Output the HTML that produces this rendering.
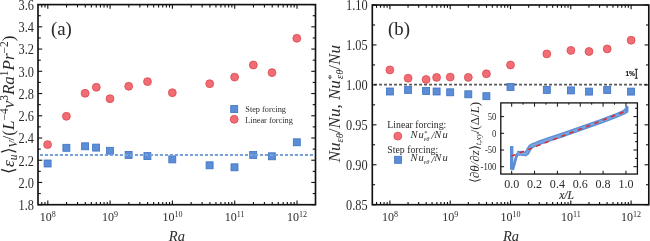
<!DOCTYPE html><html><head><meta charset="utf-8"><style>html,body{margin:0;padding:0;background:#fff;width:650px;height:241px;overflow:hidden}svg{display:block;will-change:transform}</style></head><body><svg width="650" height="241" viewBox="0 0 650 241">
<rect width="650" height="241" fill="#fff"/>
<rect x="44.10" y="160.00" width="7.0" height="7.0" fill="#5b8ed6" stroke="#3f72c4" stroke-width="0.8"/>
<rect x="62.90" y="144.30" width="7.0" height="7.0" fill="#5b8ed6" stroke="#3f72c4" stroke-width="0.8"/>
<rect x="81.60" y="142.80" width="7.0" height="7.0" fill="#5b8ed6" stroke="#3f72c4" stroke-width="0.8"/>
<rect x="92.60" y="144.10" width="7.0" height="7.0" fill="#5b8ed6" stroke="#3f72c4" stroke-width="0.8"/>
<rect x="106.50" y="147.30" width="7.0" height="7.0" fill="#5b8ed6" stroke="#3f72c4" stroke-width="0.8"/>
<rect x="125.10" y="151.40" width="7.0" height="7.0" fill="#5b8ed6" stroke="#3f72c4" stroke-width="0.8"/>
<rect x="143.90" y="152.60" width="7.0" height="7.0" fill="#5b8ed6" stroke="#3f72c4" stroke-width="0.8"/>
<rect x="168.80" y="155.90" width="7.0" height="7.0" fill="#5b8ed6" stroke="#3f72c4" stroke-width="0.8"/>
<rect x="206.10" y="161.80" width="7.0" height="7.0" fill="#5b8ed6" stroke="#3f72c4" stroke-width="0.8"/>
<rect x="231.00" y="163.80" width="7.0" height="7.0" fill="#5b8ed6" stroke="#3f72c4" stroke-width="0.8"/>
<rect x="249.70" y="151.40" width="7.0" height="7.0" fill="#5b8ed6" stroke="#3f72c4" stroke-width="0.8"/>
<rect x="268.40" y="152.80" width="7.0" height="7.0" fill="#5b8ed6" stroke="#3f72c4" stroke-width="0.8"/>
<rect x="293.30" y="138.80" width="7.0" height="7.0" fill="#5b8ed6" stroke="#3f72c4" stroke-width="0.8"/>
<line x1="38" y1="154.9" x2="315.5" y2="154.9" stroke="#7aa2da" stroke-width="2" stroke-dasharray="3.1 1.9" stroke-dashoffset="3.1"/>
<circle cx="47.6" cy="144.6" r="3.95" fill="#f06d75" stroke="#e0464f" stroke-width="0.8"/>
<circle cx="66.4" cy="116.3" r="3.95" fill="#f06d75" stroke="#e0464f" stroke-width="0.8"/>
<circle cx="85.1" cy="93.3" r="3.95" fill="#f06d75" stroke="#e0464f" stroke-width="0.8"/>
<circle cx="96.3" cy="87.3" r="3.95" fill="#f06d75" stroke="#e0464f" stroke-width="0.8"/>
<circle cx="110.0" cy="98.7" r="3.95" fill="#f06d75" stroke="#e0464f" stroke-width="0.8"/>
<circle cx="128.7" cy="86.3" r="3.95" fill="#f06d75" stroke="#e0464f" stroke-width="0.8"/>
<circle cx="147.5" cy="81.6" r="3.95" fill="#f06d75" stroke="#e0464f" stroke-width="0.8"/>
<circle cx="172.3" cy="92.7" r="3.95" fill="#f06d75" stroke="#e0464f" stroke-width="0.8"/>
<circle cx="209.7" cy="83.7" r="3.95" fill="#f06d75" stroke="#e0464f" stroke-width="0.8"/>
<circle cx="234.6" cy="77.1" r="3.95" fill="#f06d75" stroke="#e0464f" stroke-width="0.8"/>
<circle cx="253.3" cy="65.0" r="3.95" fill="#f06d75" stroke="#e0464f" stroke-width="0.8"/>
<circle cx="272.0" cy="72.6" r="3.95" fill="#f06d75" stroke="#e0464f" stroke-width="0.8"/>
<circle cx="296.8" cy="38.3" r="3.95" fill="#f06d75" stroke="#e0464f" stroke-width="0.8"/>
<rect x="38" y="4.6" width="277.5" height="200.1" fill="none" stroke="#111" stroke-width="1.65"/>
<line x1="41.76" y1="204.7" x2="41.76" y2="201.89999999999998" stroke="#111" stroke-width="1.1"/>
<line x1="41.76" y1="4.6" x2="41.76" y2="7.3999999999999995" stroke="#111" stroke-width="1.1"/>
<line x1="44.95" y1="204.7" x2="44.95" y2="201.89999999999998" stroke="#111" stroke-width="1.1"/>
<line x1="44.95" y1="4.6" x2="44.95" y2="7.3999999999999995" stroke="#111" stroke-width="1.1"/>
<line x1="47.80" y1="204.7" x2="47.80" y2="200.5" stroke="#111" stroke-width="1.1"/>
<line x1="47.80" y1="4.6" x2="47.80" y2="8.8" stroke="#111" stroke-width="1.1"/>
<line x1="66.55" y1="204.7" x2="66.55" y2="201.89999999999998" stroke="#111" stroke-width="1.1"/>
<line x1="66.55" y1="4.6" x2="66.55" y2="7.3999999999999995" stroke="#111" stroke-width="1.1"/>
<line x1="77.52" y1="204.7" x2="77.52" y2="201.89999999999998" stroke="#111" stroke-width="1.1"/>
<line x1="77.52" y1="4.6" x2="77.52" y2="7.3999999999999995" stroke="#111" stroke-width="1.1"/>
<line x1="85.31" y1="204.7" x2="85.31" y2="201.89999999999998" stroke="#111" stroke-width="1.1"/>
<line x1="85.31" y1="4.6" x2="85.31" y2="7.3999999999999995" stroke="#111" stroke-width="1.1"/>
<line x1="91.35" y1="204.7" x2="91.35" y2="201.89999999999998" stroke="#111" stroke-width="1.1"/>
<line x1="91.35" y1="4.6" x2="91.35" y2="7.3999999999999995" stroke="#111" stroke-width="1.1"/>
<line x1="96.28" y1="204.7" x2="96.28" y2="201.89999999999998" stroke="#111" stroke-width="1.1"/>
<line x1="96.28" y1="4.6" x2="96.28" y2="7.3999999999999995" stroke="#111" stroke-width="1.1"/>
<line x1="100.45" y1="204.7" x2="100.45" y2="201.89999999999998" stroke="#111" stroke-width="1.1"/>
<line x1="100.45" y1="4.6" x2="100.45" y2="7.3999999999999995" stroke="#111" stroke-width="1.1"/>
<line x1="104.06" y1="204.7" x2="104.06" y2="201.89999999999998" stroke="#111" stroke-width="1.1"/>
<line x1="104.06" y1="4.6" x2="104.06" y2="7.3999999999999995" stroke="#111" stroke-width="1.1"/>
<line x1="107.25" y1="204.7" x2="107.25" y2="201.89999999999998" stroke="#111" stroke-width="1.1"/>
<line x1="107.25" y1="4.6" x2="107.25" y2="7.3999999999999995" stroke="#111" stroke-width="1.1"/>
<line x1="110.10" y1="204.7" x2="110.10" y2="200.5" stroke="#111" stroke-width="1.1"/>
<line x1="110.10" y1="4.6" x2="110.10" y2="8.8" stroke="#111" stroke-width="1.1"/>
<line x1="128.85" y1="204.7" x2="128.85" y2="201.89999999999998" stroke="#111" stroke-width="1.1"/>
<line x1="128.85" y1="4.6" x2="128.85" y2="7.3999999999999995" stroke="#111" stroke-width="1.1"/>
<line x1="139.82" y1="204.7" x2="139.82" y2="201.89999999999998" stroke="#111" stroke-width="1.1"/>
<line x1="139.82" y1="4.6" x2="139.82" y2="7.3999999999999995" stroke="#111" stroke-width="1.1"/>
<line x1="147.61" y1="204.7" x2="147.61" y2="201.89999999999998" stroke="#111" stroke-width="1.1"/>
<line x1="147.61" y1="4.6" x2="147.61" y2="7.3999999999999995" stroke="#111" stroke-width="1.1"/>
<line x1="153.65" y1="204.7" x2="153.65" y2="201.89999999999998" stroke="#111" stroke-width="1.1"/>
<line x1="153.65" y1="4.6" x2="153.65" y2="7.3999999999999995" stroke="#111" stroke-width="1.1"/>
<line x1="158.58" y1="204.7" x2="158.58" y2="201.89999999999998" stroke="#111" stroke-width="1.1"/>
<line x1="158.58" y1="4.6" x2="158.58" y2="7.3999999999999995" stroke="#111" stroke-width="1.1"/>
<line x1="162.75" y1="204.7" x2="162.75" y2="201.89999999999998" stroke="#111" stroke-width="1.1"/>
<line x1="162.75" y1="4.6" x2="162.75" y2="7.3999999999999995" stroke="#111" stroke-width="1.1"/>
<line x1="166.36" y1="204.7" x2="166.36" y2="201.89999999999998" stroke="#111" stroke-width="1.1"/>
<line x1="166.36" y1="4.6" x2="166.36" y2="7.3999999999999995" stroke="#111" stroke-width="1.1"/>
<line x1="169.55" y1="204.7" x2="169.55" y2="201.89999999999998" stroke="#111" stroke-width="1.1"/>
<line x1="169.55" y1="4.6" x2="169.55" y2="7.3999999999999995" stroke="#111" stroke-width="1.1"/>
<line x1="172.40" y1="204.7" x2="172.40" y2="200.5" stroke="#111" stroke-width="1.1"/>
<line x1="172.40" y1="4.6" x2="172.40" y2="8.8" stroke="#111" stroke-width="1.1"/>
<line x1="191.15" y1="204.7" x2="191.15" y2="201.89999999999998" stroke="#111" stroke-width="1.1"/>
<line x1="191.15" y1="4.6" x2="191.15" y2="7.3999999999999995" stroke="#111" stroke-width="1.1"/>
<line x1="202.12" y1="204.7" x2="202.12" y2="201.89999999999998" stroke="#111" stroke-width="1.1"/>
<line x1="202.12" y1="4.6" x2="202.12" y2="7.3999999999999995" stroke="#111" stroke-width="1.1"/>
<line x1="209.91" y1="204.7" x2="209.91" y2="201.89999999999998" stroke="#111" stroke-width="1.1"/>
<line x1="209.91" y1="4.6" x2="209.91" y2="7.3999999999999995" stroke="#111" stroke-width="1.1"/>
<line x1="215.95" y1="204.7" x2="215.95" y2="201.89999999999998" stroke="#111" stroke-width="1.1"/>
<line x1="215.95" y1="4.6" x2="215.95" y2="7.3999999999999995" stroke="#111" stroke-width="1.1"/>
<line x1="220.88" y1="204.7" x2="220.88" y2="201.89999999999998" stroke="#111" stroke-width="1.1"/>
<line x1="220.88" y1="4.6" x2="220.88" y2="7.3999999999999995" stroke="#111" stroke-width="1.1"/>
<line x1="225.05" y1="204.7" x2="225.05" y2="201.89999999999998" stroke="#111" stroke-width="1.1"/>
<line x1="225.05" y1="4.6" x2="225.05" y2="7.3999999999999995" stroke="#111" stroke-width="1.1"/>
<line x1="228.66" y1="204.7" x2="228.66" y2="201.89999999999998" stroke="#111" stroke-width="1.1"/>
<line x1="228.66" y1="4.6" x2="228.66" y2="7.3999999999999995" stroke="#111" stroke-width="1.1"/>
<line x1="231.85" y1="204.7" x2="231.85" y2="201.89999999999998" stroke="#111" stroke-width="1.1"/>
<line x1="231.85" y1="4.6" x2="231.85" y2="7.3999999999999995" stroke="#111" stroke-width="1.1"/>
<line x1="234.70" y1="204.7" x2="234.70" y2="200.5" stroke="#111" stroke-width="1.1"/>
<line x1="234.70" y1="4.6" x2="234.70" y2="8.8" stroke="#111" stroke-width="1.1"/>
<line x1="253.45" y1="204.7" x2="253.45" y2="201.89999999999998" stroke="#111" stroke-width="1.1"/>
<line x1="253.45" y1="4.6" x2="253.45" y2="7.3999999999999995" stroke="#111" stroke-width="1.1"/>
<line x1="264.42" y1="204.7" x2="264.42" y2="201.89999999999998" stroke="#111" stroke-width="1.1"/>
<line x1="264.42" y1="4.6" x2="264.42" y2="7.3999999999999995" stroke="#111" stroke-width="1.1"/>
<line x1="272.21" y1="204.7" x2="272.21" y2="201.89999999999998" stroke="#111" stroke-width="1.1"/>
<line x1="272.21" y1="4.6" x2="272.21" y2="7.3999999999999995" stroke="#111" stroke-width="1.1"/>
<line x1="278.25" y1="204.7" x2="278.25" y2="201.89999999999998" stroke="#111" stroke-width="1.1"/>
<line x1="278.25" y1="4.6" x2="278.25" y2="7.3999999999999995" stroke="#111" stroke-width="1.1"/>
<line x1="283.18" y1="204.7" x2="283.18" y2="201.89999999999998" stroke="#111" stroke-width="1.1"/>
<line x1="283.18" y1="4.6" x2="283.18" y2="7.3999999999999995" stroke="#111" stroke-width="1.1"/>
<line x1="287.35" y1="204.7" x2="287.35" y2="201.89999999999998" stroke="#111" stroke-width="1.1"/>
<line x1="287.35" y1="4.6" x2="287.35" y2="7.3999999999999995" stroke="#111" stroke-width="1.1"/>
<line x1="290.96" y1="204.7" x2="290.96" y2="201.89999999999998" stroke="#111" stroke-width="1.1"/>
<line x1="290.96" y1="4.6" x2="290.96" y2="7.3999999999999995" stroke="#111" stroke-width="1.1"/>
<line x1="294.15" y1="204.7" x2="294.15" y2="201.89999999999998" stroke="#111" stroke-width="1.1"/>
<line x1="294.15" y1="4.6" x2="294.15" y2="7.3999999999999995" stroke="#111" stroke-width="1.1"/>
<line x1="297.00" y1="204.7" x2="297.00" y2="200.5" stroke="#111" stroke-width="1.1"/>
<line x1="297.00" y1="4.6" x2="297.00" y2="8.8" stroke="#111" stroke-width="1.1"/>
<line x1="38" y1="204.70" x2="42.2" y2="204.70" stroke="#111" stroke-width="1.1"/>
<line x1="315.5" y1="204.70" x2="311.3" y2="204.70" stroke="#111" stroke-width="1.1"/>
<line x1="38" y1="182.47" x2="42.2" y2="182.47" stroke="#111" stroke-width="1.1"/>
<line x1="315.5" y1="182.47" x2="311.3" y2="182.47" stroke="#111" stroke-width="1.1"/>
<line x1="38" y1="160.23" x2="42.2" y2="160.23" stroke="#111" stroke-width="1.1"/>
<line x1="315.5" y1="160.23" x2="311.3" y2="160.23" stroke="#111" stroke-width="1.1"/>
<line x1="38" y1="138.00" x2="42.2" y2="138.00" stroke="#111" stroke-width="1.1"/>
<line x1="315.5" y1="138.00" x2="311.3" y2="138.00" stroke="#111" stroke-width="1.1"/>
<line x1="38" y1="115.77" x2="42.2" y2="115.77" stroke="#111" stroke-width="1.1"/>
<line x1="315.5" y1="115.77" x2="311.3" y2="115.77" stroke="#111" stroke-width="1.1"/>
<line x1="38" y1="93.53" x2="42.2" y2="93.53" stroke="#111" stroke-width="1.1"/>
<line x1="315.5" y1="93.53" x2="311.3" y2="93.53" stroke="#111" stroke-width="1.1"/>
<line x1="38" y1="71.30" x2="42.2" y2="71.30" stroke="#111" stroke-width="1.1"/>
<line x1="315.5" y1="71.30" x2="311.3" y2="71.30" stroke="#111" stroke-width="1.1"/>
<line x1="38" y1="49.07" x2="42.2" y2="49.07" stroke="#111" stroke-width="1.1"/>
<line x1="315.5" y1="49.07" x2="311.3" y2="49.07" stroke="#111" stroke-width="1.1"/>
<line x1="38" y1="26.83" x2="42.2" y2="26.83" stroke="#111" stroke-width="1.1"/>
<line x1="315.5" y1="26.83" x2="311.3" y2="26.83" stroke="#111" stroke-width="1.1"/>
<line x1="38" y1="4.60" x2="42.2" y2="4.60" stroke="#111" stroke-width="1.1"/>
<line x1="315.5" y1="4.60" x2="311.3" y2="4.60" stroke="#111" stroke-width="1.1"/>
<line x1="38" y1="193.58" x2="40.8" y2="193.58" stroke="#111" stroke-width="1.1"/>
<line x1="315.5" y1="193.58" x2="312.7" y2="193.58" stroke="#111" stroke-width="1.1"/>
<line x1="38" y1="171.35" x2="40.8" y2="171.35" stroke="#111" stroke-width="1.1"/>
<line x1="315.5" y1="171.35" x2="312.7" y2="171.35" stroke="#111" stroke-width="1.1"/>
<line x1="38" y1="149.12" x2="40.8" y2="149.12" stroke="#111" stroke-width="1.1"/>
<line x1="315.5" y1="149.12" x2="312.7" y2="149.12" stroke="#111" stroke-width="1.1"/>
<line x1="38" y1="126.88" x2="40.8" y2="126.88" stroke="#111" stroke-width="1.1"/>
<line x1="315.5" y1="126.88" x2="312.7" y2="126.88" stroke="#111" stroke-width="1.1"/>
<line x1="38" y1="104.65" x2="40.8" y2="104.65" stroke="#111" stroke-width="1.1"/>
<line x1="315.5" y1="104.65" x2="312.7" y2="104.65" stroke="#111" stroke-width="1.1"/>
<line x1="38" y1="82.42" x2="40.8" y2="82.42" stroke="#111" stroke-width="1.1"/>
<line x1="315.5" y1="82.42" x2="312.7" y2="82.42" stroke="#111" stroke-width="1.1"/>
<line x1="38" y1="60.18" x2="40.8" y2="60.18" stroke="#111" stroke-width="1.1"/>
<line x1="315.5" y1="60.18" x2="312.7" y2="60.18" stroke="#111" stroke-width="1.1"/>
<line x1="38" y1="37.95" x2="40.8" y2="37.95" stroke="#111" stroke-width="1.1"/>
<line x1="315.5" y1="37.95" x2="312.7" y2="37.95" stroke="#111" stroke-width="1.1"/>
<line x1="38" y1="15.72" x2="40.8" y2="15.72" stroke="#111" stroke-width="1.1"/>
<line x1="315.5" y1="15.72" x2="312.7" y2="15.72" stroke="#111" stroke-width="1.1"/>
<text transform="translate(34.00,210.00) scale(0.95,1.13)" font-family="'Liberation Serif', serif" font-size="13" text-anchor="end" fill="#2b2b2b" stroke="#2b2b2b" stroke-width="0.0" >1.8</text>
<text transform="translate(34.00,187.77) scale(0.95,1.13)" font-family="'Liberation Serif', serif" font-size="13" text-anchor="end" fill="#2b2b2b" stroke="#2b2b2b" stroke-width="0.0" >2.0</text>
<text transform="translate(34.00,165.53) scale(0.95,1.13)" font-family="'Liberation Serif', serif" font-size="13" text-anchor="end" fill="#2b2b2b" stroke="#2b2b2b" stroke-width="0.0" >2.2</text>
<text transform="translate(34.00,143.30) scale(0.95,1.13)" font-family="'Liberation Serif', serif" font-size="13" text-anchor="end" fill="#2b2b2b" stroke="#2b2b2b" stroke-width="0.0" >2.4</text>
<text transform="translate(34.00,121.07) scale(0.95,1.13)" font-family="'Liberation Serif', serif" font-size="13" text-anchor="end" fill="#2b2b2b" stroke="#2b2b2b" stroke-width="0.0" >2.6</text>
<text transform="translate(34.00,98.83) scale(0.95,1.13)" font-family="'Liberation Serif', serif" font-size="13" text-anchor="end" fill="#2b2b2b" stroke="#2b2b2b" stroke-width="0.0" >2.8</text>
<text transform="translate(34.00,76.60) scale(0.95,1.13)" font-family="'Liberation Serif', serif" font-size="13" text-anchor="end" fill="#2b2b2b" stroke="#2b2b2b" stroke-width="0.0" >3.0</text>
<text transform="translate(34.00,54.37) scale(0.95,1.13)" font-family="'Liberation Serif', serif" font-size="13" text-anchor="end" fill="#2b2b2b" stroke="#2b2b2b" stroke-width="0.0" >3.2</text>
<text transform="translate(34.00,32.13) scale(0.95,1.13)" font-family="'Liberation Serif', serif" font-size="13" text-anchor="end" fill="#2b2b2b" stroke="#2b2b2b" stroke-width="0.0" >3.4</text>
<text transform="translate(34.00,9.90) scale(0.95,1.13)" font-family="'Liberation Serif', serif" font-size="13" text-anchor="end" fill="#2b2b2b" stroke="#2b2b2b" stroke-width="0.0" >3.6</text>
<text x="47.8" y="220.7" font-family="'Liberation Serif', serif" font-size="12" text-anchor="middle" fill="#2b2b2b">10<tspan font-size="8" dy="-4">8</tspan></text>
<text x="110.1" y="220.7" font-family="'Liberation Serif', serif" font-size="12" text-anchor="middle" fill="#2b2b2b">10<tspan font-size="8" dy="-4">9</tspan></text>
<text x="172.39999999999998" y="220.7" font-family="'Liberation Serif', serif" font-size="12" text-anchor="middle" fill="#2b2b2b">10<tspan font-size="8" dy="-4">10</tspan></text>
<text x="234.7" y="220.7" font-family="'Liberation Serif', serif" font-size="12" text-anchor="middle" fill="#2b2b2b">10<tspan font-size="8" dy="-4">11</tspan></text>
<text x="297.0" y="220.7" font-family="'Liberation Serif', serif" font-size="12" text-anchor="middle" fill="#2b2b2b">10<tspan font-size="8" dy="-4">12</tspan></text>
<text x="176.9" y="241.3" font-family="'Liberation Serif', serif" font-size="14.5" font-style="italic" text-anchor="middle" fill="#2b2b2b">Ra</text>
<text x="51" y="35" font-family="'Liberation Serif', serif" font-size="18.8" fill="#2b2b2b" stroke="#2b2b2b" stroke-width="0.05">(a)</text>
<rect x="230.70" y="105.60" width="7.0" height="7.0" fill="#5b8ed6" stroke="#3f72c4" stroke-width="0.8"/>
<circle cx="234.2" cy="119.3" r="3.95" fill="#f06d75" stroke="#e0464f" stroke-width="0.8"/>
<text transform="translate(245.30,112.20) scale(0.91,1.0)" font-family="'Liberation Serif', serif" font-size="9.1" text-anchor="start" fill="#2b2b2b" stroke="#2b2b2b" stroke-width="0.0" >Step forcing</text>
<text transform="translate(245.30,122.60) scale(0.91,1.0)" font-family="'Liberation Serif', serif" font-size="9.1" text-anchor="start" fill="#2b2b2b" stroke="#2b2b2b" stroke-width="0.0" >Linear forcing</text>
<text transform="translate(14,104.7) rotate(-90) scale(1.0,1)" font-family="'Liberation Serif', serif" font-size="17" text-anchor="middle" fill="#2b2b2b">&#x27E8;<tspan font-style="italic">&#x3B5;</tspan><tspan font-size="11.5" dy="3" font-style="italic">u</tspan><tspan dy="-3">&#x27E9;</tspan><tspan font-size="11.5" dy="3" font-style="italic">V</tspan><tspan dy="-3">/(</tspan><tspan font-style="italic">L</tspan><tspan font-size="11.5" dy="-6">&#x2212;4</tspan><tspan font-style="italic" dy="6">&#x3BD;</tspan><tspan font-size="11.5" dy="-6">3</tspan><tspan font-style="italic" dy="6">Ra</tspan><tspan font-size="11.5" dy="-6">1</tspan><tspan font-style="italic" dy="6">Pr</tspan><tspan font-size="11.5" dy="-6">&#x2212;2</tspan><tspan dy="6">)</tspan></text>
<line x1="372.3" y1="84.6" x2="648.8" y2="84.6" stroke="#555" stroke-width="1.8" stroke-dasharray="2.9 2.1" stroke-dashoffset="3.23"/>
<rect x="386.40" y="88.00" width="7.0" height="7.0" fill="#5b8ed6" stroke="#3f72c4" stroke-width="0.8"/>
<rect x="404.60" y="86.40" width="7.0" height="7.0" fill="#5b8ed6" stroke="#3f72c4" stroke-width="0.8"/>
<rect x="422.60" y="87.50" width="7.0" height="7.0" fill="#5b8ed6" stroke="#3f72c4" stroke-width="0.8"/>
<rect x="433.10" y="88.00" width="7.0" height="7.0" fill="#5b8ed6" stroke="#3f72c4" stroke-width="0.8"/>
<rect x="446.70" y="88.80" width="7.0" height="7.0" fill="#5b8ed6" stroke="#3f72c4" stroke-width="0.8"/>
<rect x="464.80" y="90.80" width="7.0" height="7.0" fill="#5b8ed6" stroke="#3f72c4" stroke-width="0.8"/>
<rect x="482.90" y="92.70" width="7.0" height="7.0" fill="#5b8ed6" stroke="#3f72c4" stroke-width="0.8"/>
<rect x="507.00" y="83.50" width="7.0" height="7.0" fill="#5b8ed6" stroke="#3f72c4" stroke-width="0.8"/>
<rect x="543.30" y="86.40" width="7.0" height="7.0" fill="#5b8ed6" stroke="#3f72c4" stroke-width="0.8"/>
<rect x="567.40" y="86.90" width="7.0" height="7.0" fill="#5b8ed6" stroke="#3f72c4" stroke-width="0.8"/>
<rect x="585.50" y="88.10" width="7.0" height="7.0" fill="#5b8ed6" stroke="#3f72c4" stroke-width="0.8"/>
<rect x="603.70" y="86.50" width="7.0" height="7.0" fill="#5b8ed6" stroke="#3f72c4" stroke-width="0.8"/>
<rect x="627.60" y="88.10" width="7.0" height="7.0" fill="#5b8ed6" stroke="#3f72c4" stroke-width="0.8"/>
<circle cx="389.9" cy="69.9" r="3.95" fill="#f06d75" stroke="#e0464f" stroke-width="0.8"/>
<circle cx="408.1" cy="78.2" r="3.95" fill="#f06d75" stroke="#e0464f" stroke-width="0.8"/>
<circle cx="426.1" cy="79.5" r="3.95" fill="#f06d75" stroke="#e0464f" stroke-width="0.8"/>
<circle cx="436.6" cy="77.4" r="3.95" fill="#f06d75" stroke="#e0464f" stroke-width="0.8"/>
<circle cx="450.2" cy="77.1" r="3.95" fill="#f06d75" stroke="#e0464f" stroke-width="0.8"/>
<circle cx="468.3" cy="77.4" r="3.95" fill="#f06d75" stroke="#e0464f" stroke-width="0.8"/>
<circle cx="486.4" cy="73.8" r="3.95" fill="#f06d75" stroke="#e0464f" stroke-width="0.8"/>
<circle cx="510.5" cy="65" r="3.95" fill="#f06d75" stroke="#e0464f" stroke-width="0.8"/>
<circle cx="546.8" cy="53.9" r="3.95" fill="#f06d75" stroke="#e0464f" stroke-width="0.8"/>
<circle cx="570.9" cy="50.4" r="3.95" fill="#f06d75" stroke="#e0464f" stroke-width="0.8"/>
<circle cx="589" cy="51.5" r="3.95" fill="#f06d75" stroke="#e0464f" stroke-width="0.8"/>
<circle cx="607.2" cy="48.9" r="3.95" fill="#f06d75" stroke="#e0464f" stroke-width="0.8"/>
<circle cx="631.1" cy="40.2" r="3.95" fill="#f06d75" stroke="#e0464f" stroke-width="0.8"/>
<rect x="372.3" y="5" width="276.49999999999994" height="199.7" fill="none" stroke="#111" stroke-width="1.65"/>
<line x1="376.52" y1="204.7" x2="376.52" y2="201.89999999999998" stroke="#111" stroke-width="1.1"/>
<line x1="376.52" y1="5" x2="376.52" y2="7.8" stroke="#111" stroke-width="1.1"/>
<line x1="380.56" y1="204.7" x2="380.56" y2="201.89999999999998" stroke="#111" stroke-width="1.1"/>
<line x1="380.56" y1="5" x2="380.56" y2="7.8" stroke="#111" stroke-width="1.1"/>
<line x1="384.06" y1="204.7" x2="384.06" y2="201.89999999999998" stroke="#111" stroke-width="1.1"/>
<line x1="384.06" y1="5" x2="384.06" y2="7.8" stroke="#111" stroke-width="1.1"/>
<line x1="387.14" y1="204.7" x2="387.14" y2="201.89999999999998" stroke="#111" stroke-width="1.1"/>
<line x1="387.14" y1="5" x2="387.14" y2="7.8" stroke="#111" stroke-width="1.1"/>
<line x1="389.90" y1="204.7" x2="389.90" y2="200.5" stroke="#111" stroke-width="1.1"/>
<line x1="389.90" y1="5" x2="389.90" y2="9.2" stroke="#111" stroke-width="1.1"/>
<line x1="408.05" y1="204.7" x2="408.05" y2="201.89999999999998" stroke="#111" stroke-width="1.1"/>
<line x1="408.05" y1="5" x2="408.05" y2="7.8" stroke="#111" stroke-width="1.1"/>
<line x1="418.67" y1="204.7" x2="418.67" y2="201.89999999999998" stroke="#111" stroke-width="1.1"/>
<line x1="418.67" y1="5" x2="418.67" y2="7.8" stroke="#111" stroke-width="1.1"/>
<line x1="426.20" y1="204.7" x2="426.20" y2="201.89999999999998" stroke="#111" stroke-width="1.1"/>
<line x1="426.20" y1="5" x2="426.20" y2="7.8" stroke="#111" stroke-width="1.1"/>
<line x1="432.05" y1="204.7" x2="432.05" y2="201.89999999999998" stroke="#111" stroke-width="1.1"/>
<line x1="432.05" y1="5" x2="432.05" y2="7.8" stroke="#111" stroke-width="1.1"/>
<line x1="436.82" y1="204.7" x2="436.82" y2="201.89999999999998" stroke="#111" stroke-width="1.1"/>
<line x1="436.82" y1="5" x2="436.82" y2="7.8" stroke="#111" stroke-width="1.1"/>
<line x1="440.86" y1="204.7" x2="440.86" y2="201.89999999999998" stroke="#111" stroke-width="1.1"/>
<line x1="440.86" y1="5" x2="440.86" y2="7.8" stroke="#111" stroke-width="1.1"/>
<line x1="444.36" y1="204.7" x2="444.36" y2="201.89999999999998" stroke="#111" stroke-width="1.1"/>
<line x1="444.36" y1="5" x2="444.36" y2="7.8" stroke="#111" stroke-width="1.1"/>
<line x1="447.44" y1="204.7" x2="447.44" y2="201.89999999999998" stroke="#111" stroke-width="1.1"/>
<line x1="447.44" y1="5" x2="447.44" y2="7.8" stroke="#111" stroke-width="1.1"/>
<line x1="450.20" y1="204.7" x2="450.20" y2="200.5" stroke="#111" stroke-width="1.1"/>
<line x1="450.20" y1="5" x2="450.20" y2="9.2" stroke="#111" stroke-width="1.1"/>
<line x1="468.35" y1="204.7" x2="468.35" y2="201.89999999999998" stroke="#111" stroke-width="1.1"/>
<line x1="468.35" y1="5" x2="468.35" y2="7.8" stroke="#111" stroke-width="1.1"/>
<line x1="478.97" y1="204.7" x2="478.97" y2="201.89999999999998" stroke="#111" stroke-width="1.1"/>
<line x1="478.97" y1="5" x2="478.97" y2="7.8" stroke="#111" stroke-width="1.1"/>
<line x1="486.50" y1="204.7" x2="486.50" y2="201.89999999999998" stroke="#111" stroke-width="1.1"/>
<line x1="486.50" y1="5" x2="486.50" y2="7.8" stroke="#111" stroke-width="1.1"/>
<line x1="492.35" y1="204.7" x2="492.35" y2="201.89999999999998" stroke="#111" stroke-width="1.1"/>
<line x1="492.35" y1="5" x2="492.35" y2="7.8" stroke="#111" stroke-width="1.1"/>
<line x1="497.12" y1="204.7" x2="497.12" y2="201.89999999999998" stroke="#111" stroke-width="1.1"/>
<line x1="497.12" y1="5" x2="497.12" y2="7.8" stroke="#111" stroke-width="1.1"/>
<line x1="501.16" y1="204.7" x2="501.16" y2="201.89999999999998" stroke="#111" stroke-width="1.1"/>
<line x1="501.16" y1="5" x2="501.16" y2="7.8" stroke="#111" stroke-width="1.1"/>
<line x1="504.66" y1="204.7" x2="504.66" y2="201.89999999999998" stroke="#111" stroke-width="1.1"/>
<line x1="504.66" y1="5" x2="504.66" y2="7.8" stroke="#111" stroke-width="1.1"/>
<line x1="507.74" y1="204.7" x2="507.74" y2="201.89999999999998" stroke="#111" stroke-width="1.1"/>
<line x1="507.74" y1="5" x2="507.74" y2="7.8" stroke="#111" stroke-width="1.1"/>
<line x1="510.50" y1="204.7" x2="510.50" y2="200.5" stroke="#111" stroke-width="1.1"/>
<line x1="510.50" y1="5" x2="510.50" y2="9.2" stroke="#111" stroke-width="1.1"/>
<line x1="528.65" y1="204.7" x2="528.65" y2="201.89999999999998" stroke="#111" stroke-width="1.1"/>
<line x1="528.65" y1="5" x2="528.65" y2="7.8" stroke="#111" stroke-width="1.1"/>
<line x1="539.27" y1="204.7" x2="539.27" y2="201.89999999999998" stroke="#111" stroke-width="1.1"/>
<line x1="539.27" y1="5" x2="539.27" y2="7.8" stroke="#111" stroke-width="1.1"/>
<line x1="546.80" y1="204.7" x2="546.80" y2="201.89999999999998" stroke="#111" stroke-width="1.1"/>
<line x1="546.80" y1="5" x2="546.80" y2="7.8" stroke="#111" stroke-width="1.1"/>
<line x1="552.65" y1="204.7" x2="552.65" y2="201.89999999999998" stroke="#111" stroke-width="1.1"/>
<line x1="552.65" y1="5" x2="552.65" y2="7.8" stroke="#111" stroke-width="1.1"/>
<line x1="557.42" y1="204.7" x2="557.42" y2="201.89999999999998" stroke="#111" stroke-width="1.1"/>
<line x1="557.42" y1="5" x2="557.42" y2="7.8" stroke="#111" stroke-width="1.1"/>
<line x1="561.46" y1="204.7" x2="561.46" y2="201.89999999999998" stroke="#111" stroke-width="1.1"/>
<line x1="561.46" y1="5" x2="561.46" y2="7.8" stroke="#111" stroke-width="1.1"/>
<line x1="564.96" y1="204.7" x2="564.96" y2="201.89999999999998" stroke="#111" stroke-width="1.1"/>
<line x1="564.96" y1="5" x2="564.96" y2="7.8" stroke="#111" stroke-width="1.1"/>
<line x1="568.04" y1="204.7" x2="568.04" y2="201.89999999999998" stroke="#111" stroke-width="1.1"/>
<line x1="568.04" y1="5" x2="568.04" y2="7.8" stroke="#111" stroke-width="1.1"/>
<line x1="570.80" y1="204.7" x2="570.80" y2="200.5" stroke="#111" stroke-width="1.1"/>
<line x1="570.80" y1="5" x2="570.80" y2="9.2" stroke="#111" stroke-width="1.1"/>
<line x1="588.95" y1="204.7" x2="588.95" y2="201.89999999999998" stroke="#111" stroke-width="1.1"/>
<line x1="588.95" y1="5" x2="588.95" y2="7.8" stroke="#111" stroke-width="1.1"/>
<line x1="599.57" y1="204.7" x2="599.57" y2="201.89999999999998" stroke="#111" stroke-width="1.1"/>
<line x1="599.57" y1="5" x2="599.57" y2="7.8" stroke="#111" stroke-width="1.1"/>
<line x1="607.10" y1="204.7" x2="607.10" y2="201.89999999999998" stroke="#111" stroke-width="1.1"/>
<line x1="607.10" y1="5" x2="607.10" y2="7.8" stroke="#111" stroke-width="1.1"/>
<line x1="612.95" y1="204.7" x2="612.95" y2="201.89999999999998" stroke="#111" stroke-width="1.1"/>
<line x1="612.95" y1="5" x2="612.95" y2="7.8" stroke="#111" stroke-width="1.1"/>
<line x1="617.72" y1="204.7" x2="617.72" y2="201.89999999999998" stroke="#111" stroke-width="1.1"/>
<line x1="617.72" y1="5" x2="617.72" y2="7.8" stroke="#111" stroke-width="1.1"/>
<line x1="621.76" y1="204.7" x2="621.76" y2="201.89999999999998" stroke="#111" stroke-width="1.1"/>
<line x1="621.76" y1="5" x2="621.76" y2="7.8" stroke="#111" stroke-width="1.1"/>
<line x1="625.26" y1="204.7" x2="625.26" y2="201.89999999999998" stroke="#111" stroke-width="1.1"/>
<line x1="625.26" y1="5" x2="625.26" y2="7.8" stroke="#111" stroke-width="1.1"/>
<line x1="628.34" y1="204.7" x2="628.34" y2="201.89999999999998" stroke="#111" stroke-width="1.1"/>
<line x1="628.34" y1="5" x2="628.34" y2="7.8" stroke="#111" stroke-width="1.1"/>
<line x1="631.10" y1="204.7" x2="631.10" y2="200.5" stroke="#111" stroke-width="1.1"/>
<line x1="631.10" y1="5" x2="631.10" y2="9.2" stroke="#111" stroke-width="1.1"/>
<line x1="372.3" y1="204.70" x2="376.5" y2="204.70" stroke="#111" stroke-width="1.1"/>
<line x1="648.8" y1="204.70" x2="644.5999999999999" y2="204.70" stroke="#111" stroke-width="1.1"/>
<line x1="372.3" y1="164.76" x2="376.5" y2="164.76" stroke="#111" stroke-width="1.1"/>
<line x1="648.8" y1="164.76" x2="644.5999999999999" y2="164.76" stroke="#111" stroke-width="1.1"/>
<line x1="372.3" y1="124.82" x2="376.5" y2="124.82" stroke="#111" stroke-width="1.1"/>
<line x1="648.8" y1="124.82" x2="644.5999999999999" y2="124.82" stroke="#111" stroke-width="1.1"/>
<line x1="372.3" y1="84.88" x2="376.5" y2="84.88" stroke="#111" stroke-width="1.1"/>
<line x1="648.8" y1="84.88" x2="644.5999999999999" y2="84.88" stroke="#111" stroke-width="1.1"/>
<line x1="372.3" y1="44.94" x2="376.5" y2="44.94" stroke="#111" stroke-width="1.1"/>
<line x1="648.8" y1="44.94" x2="644.5999999999999" y2="44.94" stroke="#111" stroke-width="1.1"/>
<line x1="372.3" y1="5.00" x2="376.5" y2="5.00" stroke="#111" stroke-width="1.1"/>
<line x1="648.8" y1="5.00" x2="644.5999999999999" y2="5.00" stroke="#111" stroke-width="1.1"/>
<line x1="372.3" y1="184.73" x2="375.1" y2="184.73" stroke="#111" stroke-width="1.1"/>
<line x1="648.8" y1="184.73" x2="646.0" y2="184.73" stroke="#111" stroke-width="1.1"/>
<line x1="372.3" y1="144.79" x2="375.1" y2="144.79" stroke="#111" stroke-width="1.1"/>
<line x1="648.8" y1="144.79" x2="646.0" y2="144.79" stroke="#111" stroke-width="1.1"/>
<line x1="372.3" y1="104.85" x2="375.1" y2="104.85" stroke="#111" stroke-width="1.1"/>
<line x1="648.8" y1="104.85" x2="646.0" y2="104.85" stroke="#111" stroke-width="1.1"/>
<line x1="372.3" y1="64.91" x2="375.1" y2="64.91" stroke="#111" stroke-width="1.1"/>
<line x1="648.8" y1="64.91" x2="646.0" y2="64.91" stroke="#111" stroke-width="1.1"/>
<line x1="372.3" y1="24.97" x2="375.1" y2="24.97" stroke="#111" stroke-width="1.1"/>
<line x1="648.8" y1="24.97" x2="646.0" y2="24.97" stroke="#111" stroke-width="1.1"/>
<text transform="translate(367.60,210.00) scale(0.95,1.13)" font-family="'Liberation Serif', serif" font-size="13" text-anchor="end" fill="#2b2b2b" stroke="#2b2b2b" stroke-width="0.0" >0.85</text>
<text transform="translate(367.60,170.06) scale(0.95,1.13)" font-family="'Liberation Serif', serif" font-size="13" text-anchor="end" fill="#2b2b2b" stroke="#2b2b2b" stroke-width="0.0" >0.90</text>
<text transform="translate(367.60,130.12) scale(0.95,1.13)" font-family="'Liberation Serif', serif" font-size="13" text-anchor="end" fill="#2b2b2b" stroke="#2b2b2b" stroke-width="0.0" >0.95</text>
<text transform="translate(367.60,90.18) scale(0.95,1.13)" font-family="'Liberation Serif', serif" font-size="13" text-anchor="end" fill="#2b2b2b" stroke="#2b2b2b" stroke-width="0.0" >1.00</text>
<text transform="translate(367.60,50.24) scale(0.95,1.13)" font-family="'Liberation Serif', serif" font-size="13" text-anchor="end" fill="#2b2b2b" stroke="#2b2b2b" stroke-width="0.0" >1.05</text>
<text transform="translate(367.60,10.30) scale(0.95,1.13)" font-family="'Liberation Serif', serif" font-size="13" text-anchor="end" fill="#2b2b2b" stroke="#2b2b2b" stroke-width="0.0" >1.10</text>
<text x="389.9" y="220.7" font-family="'Liberation Serif', serif" font-size="12" text-anchor="middle" fill="#2b2b2b">10<tspan font-size="8" dy="-4">8</tspan></text>
<text x="450.2" y="220.7" font-family="'Liberation Serif', serif" font-size="12" text-anchor="middle" fill="#2b2b2b">10<tspan font-size="8" dy="-4">9</tspan></text>
<text x="510.5" y="220.7" font-family="'Liberation Serif', serif" font-size="12" text-anchor="middle" fill="#2b2b2b">10<tspan font-size="8" dy="-4">10</tspan></text>
<text x="570.8" y="220.7" font-family="'Liberation Serif', serif" font-size="12" text-anchor="middle" fill="#2b2b2b">10<tspan font-size="8" dy="-4">11</tspan></text>
<text x="631.0999999999999" y="220.7" font-family="'Liberation Serif', serif" font-size="12" text-anchor="middle" fill="#2b2b2b">10<tspan font-size="8" dy="-4">12</tspan></text>
<text x="511" y="241.3" font-family="'Liberation Serif', serif" font-size="14.5" font-style="italic" text-anchor="middle" fill="#2b2b2b">Ra</text>
<text x="388" y="35" font-family="'Liberation Serif', serif" font-size="18.8" fill="#2b2b2b" stroke="#2b2b2b" stroke-width="0.05">(b)</text>
<text x="625.6" y="76.4" font-family="'Liberation Sans', sans-serif" font-weight="bold" font-size="6.6" fill="#222" stroke="#222" stroke-width="0.15" letter-spacing="-0.2">1%</text>
<path d="M636.3 69.3 V78.2 M634.8 69.3 H637.8 M634.8 78.2 H637.8" stroke="#222" stroke-width="1.1" fill="none"/>
<text x="387.3" y="128.4" font-family="'Liberation Serif', serif" font-size="9.8" fill="#2b2b2b" stroke="{TC}" stroke-width="0.3">Linear forcing:</text>
<circle cx="397.8" cy="136.1" r="3.95" fill="#f06d75" stroke="#e0464f" stroke-width="0.8"/>
<text x="410.4" y="137.8" font-family="'Liberation Serif', serif" font-size="10.5" font-style="italic" fill="#2b2b2b" >N</text>
<text x="418.6" y="137.8" font-family="'Liberation Serif', serif" font-size="10.5" font-style="italic" fill="#2b2b2b" >u</text>
<text x="424.2" y="135.4" font-family="'Liberation Serif', serif" font-size="6.5" fill="#2b2b2b">*</text>
<text x="423.8" y="140.60000000000002" font-family="'Liberation Serif', serif" font-size="6.4" font-style="italic" fill="#2b2b2b" >&#x3B5;&#x3B8;</text>
<text x="431.2" y="139.4" font-family="'Liberation Serif', serif" font-size="11" font-style="italic" fill="#2b2b2b" >/</text>
<text x="434.2" y="137.8" font-family="'Liberation Serif', serif" font-size="10.5" font-style="italic" fill="#2b2b2b" >N</text>
<text x="442.4" y="137.8" font-family="'Liberation Serif', serif" font-size="10.5" font-style="italic" fill="#2b2b2b" >u</text>
<text x="387.3" y="152.6" font-family="'Liberation Serif', serif" font-size="9.8" fill="#2b2b2b" stroke="{TC}" stroke-width="0.3">Step forcing:</text>
<rect x="394.60" y="156.30" width="7" height="7" fill="#5b8ed6" stroke="#3f72c4" stroke-width="0.8"/>
<text x="410.4" y="161.3" font-family="'Liberation Serif', serif" font-size="10.5" font-style="italic" fill="#2b2b2b" >N</text>
<text x="418.6" y="161.3" font-family="'Liberation Serif', serif" font-size="10.5" font-style="italic" fill="#2b2b2b" >u</text>
<text x="423.8" y="164.10000000000002" font-family="'Liberation Serif', serif" font-size="6.4" font-style="italic" fill="#2b2b2b" >&#x3B5;&#x3B8;</text>
<text x="431.2" y="162.9" font-family="'Liberation Serif', serif" font-size="11" font-style="italic" fill="#2b2b2b" >/</text>
<text x="434.2" y="161.3" font-family="'Liberation Serif', serif" font-size="10.5" font-style="italic" fill="#2b2b2b" >N</text>
<text x="442.4" y="161.3" font-family="'Liberation Serif', serif" font-size="10.5" font-style="italic" fill="#2b2b2b" >u</text>
<text transform="translate(340,103.7) rotate(-90)" font-family="'Liberation Serif', serif" font-size="17" font-style="italic" text-anchor="middle" fill="#2b2b2b">Nu<tspan font-size="10.5" dy="3">&#x3B5;&#x3B8;</tspan><tspan dy="-3" font-style="normal">/</tspan>Nu, Nu<tspan font-size="10.5" dy="-5">*</tspan><tspan font-size="10.5" dx="-4" dy="8">&#x3B5;&#x3B8;</tspan><tspan dy="-3" font-style="normal">/</tspan>Nu</text>
<rect x="500.8" y="102.9" width="136.59999999999997" height="71.15" fill="#fff" stroke="none"/>
<path d="M511.7 146 L511.7 169.8" fill="none" stroke="#5d8fd6" stroke-width="3.4"/>
<path d="M512.6 170 L514.3 164 L516.2 157 L517.8 153" fill="none" stroke="#5d8fd6" stroke-width="2.8" stroke-linejoin="round"/>
<path d="M517.2 153.4 L520 153.2 L523 153.5 L525.5 154 L527 152.8 L528.8 149.5 L530.5 146.8 L533 145.2 L536 144.2 L540 142.6 L550 139 L565 134.1 L585 126.9 L600 121.7 L615 116.1 L623 112.6 L627 110.4" fill="none" stroke="#5d8fd6" stroke-width="4.8" stroke-linejoin="round"/>
<path d="M517.2 153.4 L520 153.2 L523 153.5 L525.5 154 L527 152.8 L528.8 149.5 L530.5 146.8 L533 145.2 L536 144.2 L540 142.6 L550 139 L565 134.1 L585 126.9 L600 121.7 L615 116.1 L623 112.6 L627 110.4" fill="none" stroke="#86ade2" stroke-width="2" stroke-linejoin="round" opacity="0.75"/>
<path d="M624.5 108.5 L627 105.6 L628.6 106.8 L628.4 112 L626 112.5 Z" fill="#5d8fd6" stroke="none"/>
<line x1="511.4" y1="156.1" x2="626.2" y2="111.0" stroke="#dc2a30" stroke-width="1.5" stroke-dasharray="4.5 4.42" stroke-dashoffset="0"/>
<rect x="500.8" y="102.9" width="136.59999999999997" height="71.15" fill="none" stroke="#111" stroke-width="1.3"/>
<line x1="511.70" y1="102.9" x2="511.70" y2="106.7" stroke="#111" stroke-width="1"/>
<line x1="511.70" y1="174.05" x2="511.70" y2="170.75" stroke="#111" stroke-width="1"/>
<line x1="523.12" y1="102.9" x2="523.12" y2="104.7" stroke="#111" stroke-width="1"/>
<line x1="534.55" y1="102.9" x2="534.55" y2="106.7" stroke="#111" stroke-width="1"/>
<line x1="534.55" y1="174.05" x2="534.55" y2="170.75" stroke="#111" stroke-width="1"/>
<line x1="545.98" y1="102.9" x2="545.98" y2="104.7" stroke="#111" stroke-width="1"/>
<line x1="557.40" y1="102.9" x2="557.40" y2="106.7" stroke="#111" stroke-width="1"/>
<line x1="557.40" y1="174.05" x2="557.40" y2="170.75" stroke="#111" stroke-width="1"/>
<line x1="568.83" y1="102.9" x2="568.83" y2="104.7" stroke="#111" stroke-width="1"/>
<line x1="580.25" y1="102.9" x2="580.25" y2="106.7" stroke="#111" stroke-width="1"/>
<line x1="580.25" y1="174.05" x2="580.25" y2="170.75" stroke="#111" stroke-width="1"/>
<line x1="591.67" y1="102.9" x2="591.67" y2="104.7" stroke="#111" stroke-width="1"/>
<line x1="603.10" y1="102.9" x2="603.10" y2="106.7" stroke="#111" stroke-width="1"/>
<line x1="603.10" y1="174.05" x2="603.10" y2="170.75" stroke="#111" stroke-width="1"/>
<line x1="614.52" y1="102.9" x2="614.52" y2="104.7" stroke="#111" stroke-width="1"/>
<line x1="625.95" y1="102.9" x2="625.95" y2="106.7" stroke="#111" stroke-width="1"/>
<line x1="625.95" y1="174.05" x2="625.95" y2="170.75" stroke="#111" stroke-width="1"/>
<line x1="500.8" y1="166.70" x2="504.1" y2="166.70" stroke="#111" stroke-width="1"/>
<line x1="637.4" y1="166.70" x2="633.4" y2="166.70" stroke="#111" stroke-width="1"/>
<line x1="637.4" y1="158.35" x2="635.0" y2="158.35" stroke="#111" stroke-width="1"/>
<line x1="500.8" y1="150.00" x2="504.1" y2="150.00" stroke="#111" stroke-width="1"/>
<line x1="637.4" y1="150.00" x2="633.4" y2="150.00" stroke="#111" stroke-width="1"/>
<line x1="637.4" y1="141.65" x2="635.0" y2="141.65" stroke="#111" stroke-width="1"/>
<line x1="500.8" y1="133.30" x2="504.1" y2="133.30" stroke="#111" stroke-width="1"/>
<line x1="637.4" y1="133.30" x2="633.4" y2="133.30" stroke="#111" stroke-width="1"/>
<line x1="637.4" y1="124.95" x2="635.0" y2="124.95" stroke="#111" stroke-width="1"/>
<line x1="500.8" y1="116.60" x2="504.1" y2="116.60" stroke="#111" stroke-width="1"/>
<line x1="637.4" y1="116.60" x2="633.4" y2="116.60" stroke="#111" stroke-width="1"/>
<line x1="637.4" y1="108.25" x2="635.0" y2="108.25" stroke="#111" stroke-width="1"/>
<text transform="translate(511.70,188.30) scale(1.04,1.08)" font-family="'Liberation Serif', serif" font-size="11.6" text-anchor="middle" fill="#2b2b2b" stroke="#2b2b2b" stroke-width="0.0" >0.0</text>
<text transform="translate(534.55,188.30) scale(1.04,1.08)" font-family="'Liberation Serif', serif" font-size="11.6" text-anchor="middle" fill="#2b2b2b" stroke="#2b2b2b" stroke-width="0.0" >0.2</text>
<text transform="translate(557.40,188.30) scale(1.04,1.08)" font-family="'Liberation Serif', serif" font-size="11.6" text-anchor="middle" fill="#2b2b2b" stroke="#2b2b2b" stroke-width="0.0" >0.4</text>
<text transform="translate(580.25,188.30) scale(1.04,1.08)" font-family="'Liberation Serif', serif" font-size="11.6" text-anchor="middle" fill="#2b2b2b" stroke="#2b2b2b" stroke-width="0.0" >0.6</text>
<text transform="translate(603.10,188.30) scale(1.04,1.08)" font-family="'Liberation Serif', serif" font-size="11.6" text-anchor="middle" fill="#2b2b2b" stroke="#2b2b2b" stroke-width="0.0" >0.8</text>
<text transform="translate(625.95,188.30) scale(1.04,1.08)" font-family="'Liberation Serif', serif" font-size="11.6" text-anchor="middle" fill="#2b2b2b" stroke="#2b2b2b" stroke-width="0.0" >1.0</text>
<text transform="translate(496.40,120.00) scale(0.92,1.05)" font-family="'Liberation Serif', serif" font-size="9.4" text-anchor="end" fill="#2b2b2b" stroke="#2b2b2b" stroke-width="0.0" >50</text>
<text transform="translate(496.40,136.70) scale(0.92,1.05)" font-family="'Liberation Serif', serif" font-size="9.4" text-anchor="end" fill="#2b2b2b" stroke="#2b2b2b" stroke-width="0.0" >0</text>
<text transform="translate(496.40,153.40) scale(0.92,1.05)" font-family="'Liberation Serif', serif" font-size="9.4" text-anchor="end" fill="#2b2b2b" stroke="#2b2b2b" stroke-width="0.0" >-50</text>
<text transform="translate(496.40,170.10) scale(0.92,1.05)" font-family="'Liberation Serif', serif" font-size="9.4" text-anchor="end" fill="#2b2b2b" stroke="#2b2b2b" stroke-width="0.0" >-100</text>
<text x="566.6" y="198.7" font-family="'Liberation Serif', serif" font-size="11.6" font-style="italic" text-anchor="middle" fill="#2b2b2b" stroke="#2b2b2b" stroke-width="0.12">x/L</text>
<text transform="translate(478.5,142.5) rotate(-90)" font-family="'Liberation Serif', serif" font-size="13" letter-spacing="0" text-anchor="middle" fill="#2b2b2b">&#x27E8;<tspan font-style="italic">&#x2202;&#x3B8;/&#x2202;z</tspan>&#x27E9;<tspan font-size="8.5" dy="2" font-style="italic">t,xy</tspan><tspan dy="-2">/(&#x394;/</tspan><tspan font-style="italic">L</tspan>)</text>
</svg></body></html>
